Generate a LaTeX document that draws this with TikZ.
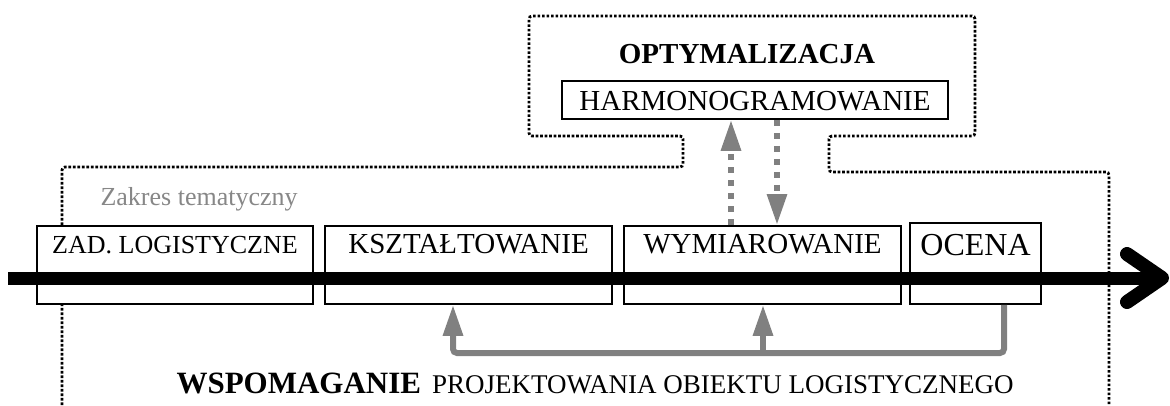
\documentclass[tikz,border=0pt]{standalone}
\usepackage{fontspec}
\setmainfont{Liberation Serif}
\usetikzlibrary{arrows.meta}
\definecolor{flowgray}{RGB}{128,128,128}
\definecolor{notegray}{RGB}{135,135,135}

\begin{document}
\begin{tikzpicture}[x=1pt,y=-1pt,
  stagebox/.style={draw=black, line width=1.8pt, fill=white, inner sep=0pt,
    text height=28pt, text depth=50pt, anchor=north, font=\fontsize{29}{34}\selectfont},
  scopeframe/.style={line width=2.8pt, dash pattern=on 2.6pt off 1.9pt, rounded corners=3pt},
  linkarrow/.style={flowgray, line width=6pt, dash pattern=on 6pt off 7pt,
    -{Triangle[length=31pt,width=19pt]}},
  feedback/.style={flowgray, line width=6pt, rounded corners=4pt},
  feedtip/.style={-{Triangle[length=31pt,width=19pt]}},
  timeline/.style={line width=13pt},
]
\useasboundingbox (0,0) rectangle (1170,405);

% dotted outline of the topic scope with the optimisation cap
\draw[scopeframe] (62,405) -- (62,167) -- (683,167) -- (683,136) -- (529,136)
  -- (529,16) -- (975,16) -- (975,136) -- (829,136) -- (829,172)
  -- (1109,172) -- (1109,405);

% optimisation block
\node[anchor=base, font=\bfseries\fontsize{29}{34}\selectfont] (opt) at (747,63) {OPTYMALIZACJA};
\node[draw=black, line width=1.8pt, fill=white, inner sep=0pt, anchor=north,
  minimum width=386pt, text height=30pt, text depth=8pt,
  font=\fontsize{29}{34}\selectfont] (harm) at (755,80) {HARMONOGRAMOWANIE};

\node[anchor=base west, text=notegray, font=\fontsize{26}{30}\selectfont] (scope) at (97,205) {Zakres tematyczny};

% stages along the design process
\node[stagebox, minimum width=276pt, font=\fontsize{26}{30}\selectfont] (zad) at (175,225) {ZAD. LOGISTYCZNE};
\node[stagebox, minimum width=287pt] (ksz) at (468.5,225) {KSZTAŁTOWANIE};
\node[stagebox, minimum width=277pt] (wym) at (762.5,225) {WYMIAROWANIE};
\node[stagebox, minimum width=131pt, text height=33pt, text depth=48pt,
  font=\fontsize{32}{36}\selectfont] (ocena) at (975.5,222) {OCENA};

% links between dimensioning and scheduling
\coordinate (upx) at (731,0);
\coordinate (downx) at (777,0);
\draw[linkarrow] (wym.north -| upx) -- (harm.south -| upx);
\draw[linkarrow] (harm.south -| downx) -- (wym.north -| downx);

% feedback from the evaluation
\coordinate (fbL) at (453,353);
\coordinate (fbM) at (763,353);
\coordinate (fbR) at (1004,353);
\draw[feedback, feedtip] (ocena.south -| fbR) -- (fbR) -- (fbL) -- (ksz.south -| fbL);
\draw[feedback, feedtip] (fbM) -- (wym.south -| fbM);

% main time axis
\coordinate (tstart) at (8,278);
\coordinate (ttip) at (1162,278);
\coordinate (tarmA) at (1127,254);
\coordinate (tarmB) at (1127,302);
\draw[timeline] (tstart) -- (ttip);
\draw[line width=14pt, line cap=round, line join=round] (tarmA) -- (ttip) -- (tarmB);

\node[anchor=base west] (caption) at (173,393)
  {{\bfseries\fontsize{31}{36}\selectfont WSPOMAGANIE}\hspace{11pt}{\fontsize{27}{32}\selectfont PROJEKTOWANIA OBIEKTU LOGISTYCZNEGO}};
\end{tikzpicture}
\end{document}
